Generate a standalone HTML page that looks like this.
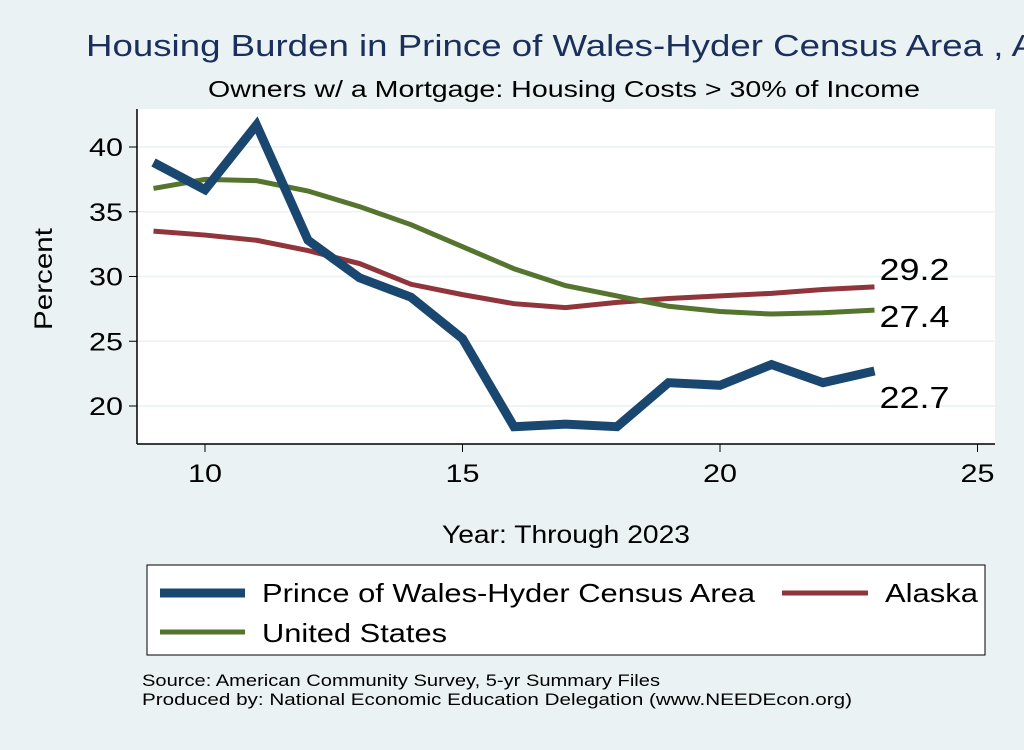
<!DOCTYPE html>
<html><head><meta charset="utf-8"><style>
body{margin:0;background:#eaf2f3;}
svg text{font-family:"Liberation Sans",sans-serif;}
</style></head><body>
<svg width="1024" height="745" xmlns="http://www.w3.org/2000/svg">
<rect width="1024" height="745" fill="#eaf2f3"/>
<text x="86" y="56" font-size="31" fill="#1a2f5c" textLength="950" lengthAdjust="spacingAndGlyphs">Housing Burden in Prince of Wales-Hyder Census Area , A</text>
<text x="208" y="97" font-size="23" textLength="712" lengthAdjust="spacingAndGlyphs">Owners w/ a Mortgage: Housing Costs &gt; 30% of Income</text>
<rect x="137" y="109" width="858" height="335" fill="#fff"/>
<g id="grid"></g>
<g id="axes"></g>
<g id="series"></g>
<text x="52" y="330" font-size="25" textLength="102" lengthAdjust="spacingAndGlyphs" transform="rotate(-90 52 330)">Percent</text>
<text x="442" y="543" font-size="25" textLength="248" lengthAdjust="spacingAndGlyphs">Year: Through 2023</text>
<g>
<rect x="147" y="565" width="838" height="90" fill="#fff" stroke="#000" stroke-width="1"/>
<line x1="160" y1="593" x2="245" y2="593" stroke="#1a476f" stroke-width="9"/>
<text x="262" y="602" font-size="26" textLength="493" lengthAdjust="spacingAndGlyphs">Prince of Wales-Hyder Census Area</text>
<line x1="782" y1="593" x2="868" y2="593" stroke="#90353b" stroke-width="5"/>
<text x="885" y="602" font-size="26" textLength="93" lengthAdjust="spacingAndGlyphs">Alaska</text>
<line x1="160" y1="632" x2="245" y2="632" stroke="#55752f" stroke-width="5"/>
<text x="262" y="642" font-size="26" textLength="185" lengthAdjust="spacingAndGlyphs">United States</text>
</g>
<text x="142" y="686" font-size="17" textLength="518" lengthAdjust="spacingAndGlyphs">Source: American Community Survey, 5-yr Summary Files</text>
<text x="142" y="705" font-size="17" textLength="710" lengthAdjust="spacingAndGlyphs">Produced by: National Economic Education Delegation (www.NEEDEcon.org)</text>
</svg>
<script>
const years=[9,10,11,12,13,14,15,16,17,18,19,20,21,22,23];
const powValues=[38.8,36.7,41.7,32.8,29.9,28.4,25.2,18.4,18.6,18.4,21.8,21.6,23.2,21.8,22.7];
const alaskaValues=[33.5,33.2,32.8,32.0,31.0,29.4,28.6,27.9,27.6,28.0,28.3,28.5,28.7,29.0,29.2];
const usValues=[36.8,37.5,37.4,36.6,35.4,34.0,32.3,30.6,29.3,28.5,27.7,27.3,27.1,27.2,27.4];
const xTicks=[10,15,20,25];
const yTicks=[20,25,30,35,40];
const NS='http://www.w3.org/2000/svg';
const xs=v=>205+(v-10)*51.5;
const ys=v=>406-(v-20)*12.95;
function mk(tag,attrs,parent){const e=document.createElementNS(NS,tag);for(const k in attrs)e.setAttribute(k,attrs[k]);parent.appendChild(e);return e;}
const grid=document.getElementById('grid'),axes=document.getElementById('axes'),series=document.getElementById('series');
yTicks.forEach(t=>{
 const g=mk('line',{x1:137,x2:995,y1:ys(t),y2:ys(t),stroke:'#eaf2f3','stroke-width':1.5},grid);
 
 
 const tk=mk('line',{x1:129,x2:137,y1:ys(t),y2:ys(t),stroke:'#000'},axes);
 
 
 const tx=mk('text',{x:123,y:ys(t)+9,'font-size':25,'text-anchor':'end',textLength:34,lengthAdjust:'spacingAndGlyphs'},axes);tx.textContent=t;
 
 
});
xTicks.forEach(t=>{
 const tk=mk('line',{x1:xs(t),x2:xs(t),y1:444,y2:452,stroke:'#000'},axes);
 
 
 const tx=mk('text',{x:xs(t)-17,y:482,'font-size':25,textLength:34,lengthAdjust:'spacingAndGlyphs'},axes);tx.textContent=t;
 
 
});
const ya=mk('line',{x1:137,x2:137,y1:109,y2:444,stroke:'#000','stroke-width':1.5},axes);


const xa=mk('line',{x1:137,x2:995,y1:444,y2:444,stroke:'#000','stroke-width':1.5},axes);


function line(vals,color,w,name){
 const p=mk('polyline',{points:vals.map((v,i)=>xs(years[i])+','+ys(v)).join(' '),fill:'none',stroke:color,'stroke-width':w,'stroke-linejoin':'miter'},series);
 
 
}
line(alaskaValues,'#90353b',5,'line-alaska');
line(usValues,'#55752f',5,'line-us');
line(powValues,'#1a476f',9,'line-pow');
const last=years.length-1;
[[alaskaValues,-7,'label-alaska'],[usValues,17,'label-us'],[powValues,37,'label-pow']].forEach(([v,dy,n])=>{
 const t=mk('text',{x:xs(years[last])+5,y:ys(v[last])+dy,'font-size':31,textLength:70,lengthAdjust:'spacingAndGlyphs'},series);
 t.textContent=v[last].toFixed(1);
 
 
});
</script>
</body></html>
